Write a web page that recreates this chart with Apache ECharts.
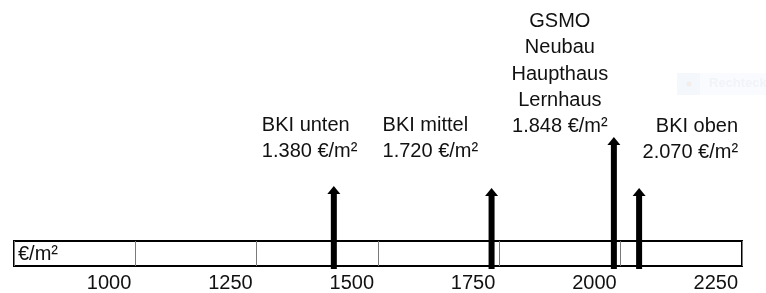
<!DOCTYPE html>
<html>
<head>
<meta charset="utf-8">
<script src="https://cdn.jsdelivr.net/npm/echarts@6/dist/echarts.min.js"></script>
<style>
  html, body { margin: 0; padding: 0; background: #fff; }
  #chart { width: 766px; height: 293px; }
</style>
</head>
<body>
<div id="chart"></div>
<script>
(function() {
  'use strict';

  // scale of the bar
  const axisMin = 750;
  const axisMax = 2250;
  const tickLabels = ['1000', '1250', '1500', '1750', '2000', '2250'];
  const unitLabel = '€/m²';

  // markers: names, stated values, and where they sit on the drawn scale
  const markerNames = ['BKI unten', 'BKI mittel', 'GSMO\nNeubau\nHaupthaus\nLernhaus', 'BKI oben'];
  const markerValues = [1380, 1720, 1848, 2070];
  const markerAxisPos = [1409, 1734, 1986, 2038];

  // drawing layout for the arrows and their captions (px)
  const arrowLength = [83, 81, 132, 81];
  const captionLayout = [
    { dx: -72, dy: -21, align: 'left' },
    { dx: -109, dy: -23, align: 'left' },
    { dx: -54, dy: 3, align: 'center' },
    { dx: 99, dy: -22, align: 'right' }
  ];

  const FONT = '"Liberation Sans", Arial, sans-serif';
  const TEXT = '#111';

  function fmtDe(v) {
    return String(v).replace(/\B(?=(\d{3})+(?!\d))/g, '.');
  }

  function renderArrow(params, api) {
    const i = params.dataIndex;
    const x = api.value(0);
    const base = api.coord([x, 0]);
    const tip = api.coord([x, arrowLength[i]]);
    const headH = 8;
    const headW = 13;
    const shaftW = 6;
    const cap = captionLayout[i];
    return {
      type: 'group',
      children: [
        {
          type: 'rect',
          shape: { x: tip[0] - shaftW / 2, y: tip[1] + headH - 1, width: shaftW, height: base[1] - tip[1] - headH + 1 },
          style: { fill: '#000' }
        },
        {
          type: 'polygon',
          shape: { points: [[tip[0], tip[1]], [tip[0] + headW / 2, tip[1] + headH], [tip[0] - headW / 2, tip[1] + headH]] },
          style: { fill: '#000' }
        },
        {
          type: 'text',
          style: {
            x: tip[0] + cap.dx,
            y: tip[1] + cap.dy,
            text: markerNames[i] + '\n' + fmtDe(markerValues[i]) + ' ' + unitLabel,
            align: cap.align,
            verticalAlign: 'bottom',
            font: '20px ' + FONT,
            lineHeight: 26.3,
            fill: TEXT
          }
        }
      ]
    };
  }

  const chart = echarts.init(document.getElementById('chart'), null, { renderer: 'canvas' });

  chart.setOption({
    animation: false,
    grid: [
      { left: 14, right: 24, top: 241, height: 26, show: true, borderColor: '#000', borderWidth: 2, backgroundColor: 'transparent' },
      { left: 14, right: 24, top: 0, bottom: 24 }
    ],
    xAxis: [
      {
        gridIndex: 0,
        type: 'value',
        min: axisMin,
        max: axisMax,
        interval: 250,
        axisLine: { show: false },
        axisTick: { show: false },
        splitLine: { show: true, lineStyle: { color: '#7a7a7a', width: 1 } },
        axisLabel: {
          showMinLabel: false,
          align: 'right',
          padding: [0, 4, 0, 0],
          margin: 7,
          fontSize: 20,
          fontFamily: FONT,
          color: TEXT,
          formatter: function(v) {
            const s = String(v);
            return tickLabels.indexOf(s) >= 0 ? s : '';
          }
        }
      },
      { gridIndex: 1, type: 'value', min: axisMin, max: axisMax, show: false }
    ],
    yAxis: [
      { gridIndex: 0, type: 'value', min: 0, max: 1, show: false },
      { gridIndex: 1, type: 'value', min: 0, max: 269, show: false }
    ],
    series: [
      {
        type: 'custom',
        xAxisIndex: 1,
        yAxisIndex: 1,
        z: 5,
        clip: false,
        renderItem: renderArrow,
        data: markerAxisPos.map(function(p) { return [p]; })
      }
    ],
    graphic: [
      {
        type: 'text',
        left: 18,
        top: 244,
        style: { text: unitLabel, font: '20px ' + FONT, fill: TEXT }
      },
      {
        type: 'group',
        left: 677,
        top: 73,
        silent: true,
        children: [
          { type: 'rect', shape: { x: 0, y: 0, width: 89, height: 22 }, style: { fill: '#f9fbfe' } },
          { type: 'rect', shape: { x: 0, y: 0, width: 23, height: 22 }, style: { fill: '#f4f7fc' } },
          { type: 'circle', shape: { cx: 12, cy: 11, r: 2.5 }, style: { fill: '#f3ece9' } },
          { type: 'text', style: { x: 32, y: 4, text: 'Rechtecki', font: 'bold 13px ' + FONT, fill: '#f0f3f8' } }
        ]
      }
    ]
  });
})();
</script>
</body>
</html>
